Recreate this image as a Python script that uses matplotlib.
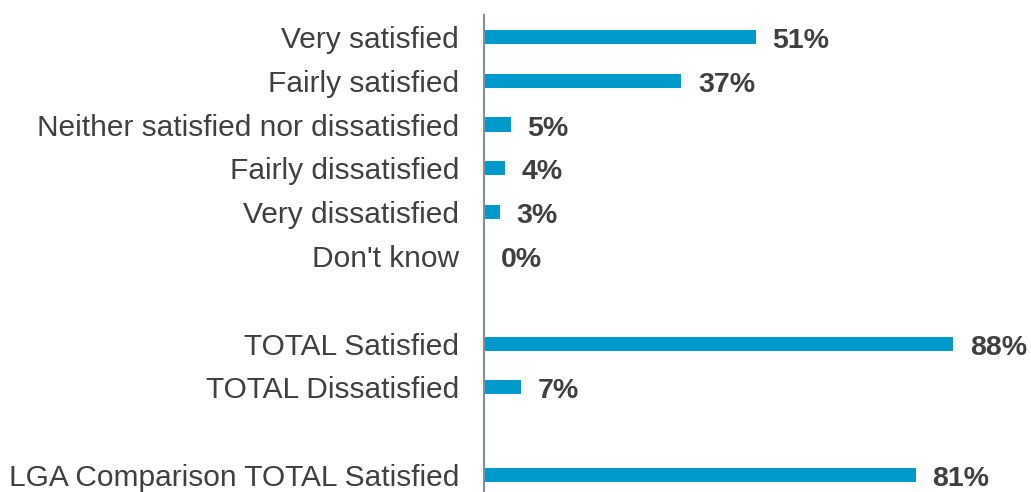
import matplotlib
matplotlib.use("Agg")
import matplotlib.pyplot as plt

# rows from top to bottom; None marks an empty spacer row
categories = ["Very satisfied", "Fairly satisfied", "Neither satisfied nor dissatisfied",
              "Fairly dissatisfied", "Very dissatisfied", "Don't know", None,
              "TOTAL Satisfied", "TOTAL Dissatisfied", None,
              "LGA Comparison TOTAL Satisfied"]
values = [51, 37, 5, 4, 3, 0, None, 88, 7, None, 81]

BAR = "#0099CC"
TXT = "#404040"

plt.rcParams["font.family"] = ["Liberation Sans", "DejaVu Sans"]

fig = plt.figure(figsize=(10.31, 4.92), dpi=100)
ax = fig.add_axes([484 / 1031, 0.0, 533 / 1031, 1 - 15 / 492])

pos = [i for i, v in enumerate(values) if v is not None]
vals = [values[i] for i in pos]
labs = [categories[i] for i in pos]

ax.barh(pos, vals, height=0.32, color=BAR)
for p, v in zip(pos, vals):
    ax.annotate(f"{v}%", (v, p), xytext=(12, -3), textcoords="offset points",
                va="center", ha="left", fontsize=20.5, fontweight="bold", color=TXT)

ax.set_yticks(pos)
ax.set_yticklabels(labs, fontsize=21.5, color=TXT)
ax.tick_params(axis="y", length=0, pad=18)
ax.set_xticks([])
ax.set_xlim(0, 100)
ax.set_ylim(10.39, -0.5)
for s in ["top", "right", "bottom"]:
    ax.spines[s].set_visible(False)
ax.spines["left"].set_color("#7F8FA0")
ax.spines["left"].set_linewidth(1.5)

fig.savefig("out.png", dpi=100)
